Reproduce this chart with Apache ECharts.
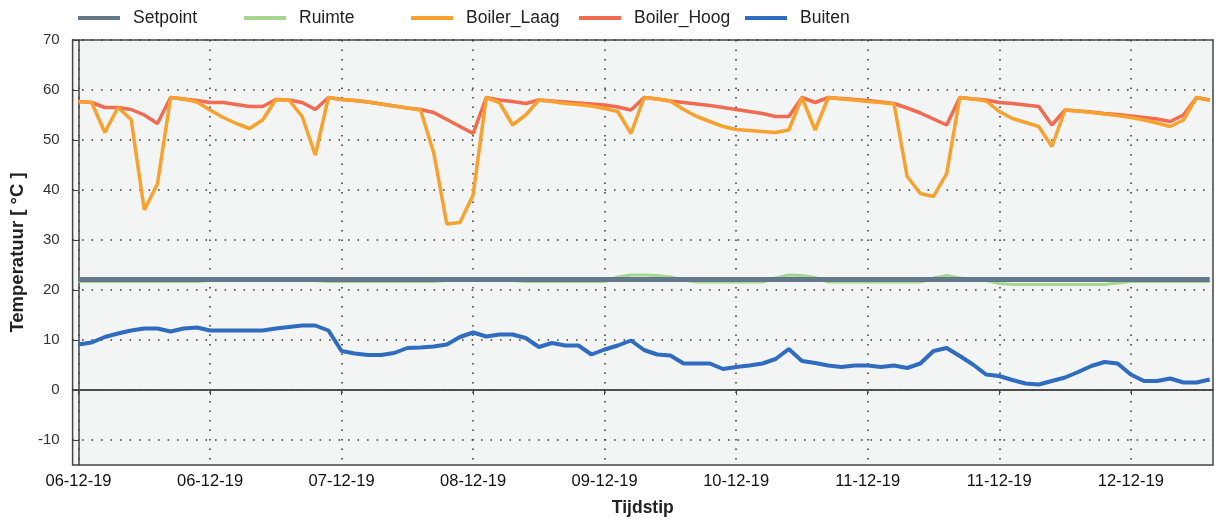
<!DOCTYPE html>
<html>
<head>
<meta charset="utf-8">
<script src="https://cdn.jsdelivr.net/npm/echarts@6/dist/echarts.min.js"></script>
<style>
  html, body { margin: 0; padding: 0; background: #fff; }
  #chart { width: 1218px; height: 523px; }
</style>
</head>
<body>
<div id="chart"></div>
<script>
// sample times in hours since the first reading (one reading every 2 hours)
const sampleHours = [
  0, 2, 4, 6, 8, 10, 12, 14, 16, 18, 20, 22, 24, 26, 28, 30, 32, 34, 36, 38,
  40, 42, 44, 46, 48, 50, 52, 54, 56, 58, 60, 62, 64, 66, 68, 70, 72, 74, 76, 78,
  80, 82, 84, 86, 88, 90, 92, 94, 96, 98, 100, 102, 104, 106, 108, 110, 112, 114, 116, 118,
  120, 122, 124, 126, 128, 130, 132, 134, 136, 138, 140, 142, 144, 146, 148, 150, 152, 154, 156, 158,
  160, 162, 164, 166, 168, 170, 172
]
const tickHours = [0, 20, 40, 60, 80, 100, 120, 140, 160]
const tickLabels = ['06-12-19', '06-12-19', '07-12-19', '08-12-19', '09-12-19', '10-12-19', '11-12-19', '11-12-19', '12-12-19']
const yTicks = [-10, 0, 10, 20, 30, 40, 50, 60, 70]

const setpoint = [
  22.1, 22.1, 22.1, 22.1, 22.1, 22.1, 22.1, 22.1, 22.1, 22.1, 22.1, 22.1, 22.1, 22.1, 22.1, 22.1, 22.1, 22.1, 22.1, 22.1,
  22.1, 22.1, 22.1, 22.1, 22.1, 22.1, 22.1, 22.1, 22.1, 22.1, 22.1, 22.1, 22.1, 22.1, 22.1, 22.1, 22.1, 22.1, 22.1, 22.1,
  22.1, 22.1, 22.1, 22.1, 22.1, 22.1, 22.1, 22.1, 22.1, 22.1, 22.1, 22.1, 22.1, 22.1, 22.1, 22.1, 22.1, 22.1, 22.1, 22.1,
  22.1, 22.1, 22.1, 22.1, 22.1, 22.1, 22.1, 22.1, 22.1, 22.1, 22.1, 22.1, 22.1, 22.1, 22.1, 22.1, 22.1, 22.1, 22.1, 22.1,
  22.1, 22.1, 22.1, 22.1, 22.1, 22.1, 22.1
]
const ruimte = [
  21.7, 21.7, 21.7, 21.7, 21.7, 21.7, 21.7, 21.7, 21.7, 21.7,
  21.9, 21.9, 21.9, 21.9, 21.9, 21.9, 21.9, 21.9, 21.9,
  21.7, 21.7, 21.7, 21.7, 21.7, 21.7, 21.7, 21.7, 21.7,
  21.9, 21.9, 21.9, 21.9, 21.9, 21.9,
  21.7, 21.7, 21.7, 21.7, 21.7, 21.7, 21.7,
  22.6, 23.0, 23.0, 22.9, 22.6, 22.0,
  21.6, 21.6, 21.6, 21.6, 21.6, 21.6,
  22.4, 23.0, 22.9, 22.5,
  21.6, 21.6, 21.6, 21.6, 21.6, 21.6, 21.6, 21.6,
  22.4, 22.9, 22.4,
  21.9, 21.9,
  21.3, 21.1, 21.1, 21.1, 21.1, 21.1, 21.1, 21.1, 21.1, 21.4,
  21.7, 21.7, 21.7, 21.7, 21.7, 21.7, 21.7
]
const boilerLaag = [
  57.7, 57.5, 51.5, 56.5, 54.1, 36.0, 41.2, 58.5, 58.2, 57.6,
  56.0, 54.5, 53.3, 52.3, 54.0, 58.1, 58.0, 54.7, 47.0, 58.5,
  58.1, 57.9, 57.6, 57.2, 56.8, 56.4, 56.0, 47.5, 33.2, 33.5,
  39.0, 58.5, 57.5, 53.0, 55.0, 58.0, 57.7, 57.3, 57.1, 56.8,
  56.3, 55.7, 51.3, 58.5, 58.2, 57.8, 56.1, 54.7, 53.7, 52.7,
  52.1, 51.9, 51.7, 51.5, 52.0, 58.5, 52.0, 58.5, 58.2, 58.0,
  57.7, 57.5, 57.2, 42.7, 39.3, 38.7, 43.3, 58.5, 58.2, 57.8,
  55.7, 54.3, 53.5, 52.7, 48.7, 56.0, 55.8, 55.5, 55.2, 54.9,
  54.5, 54.0, 53.4, 52.7, 54.0, 58.5, 57.9
]
const boilerHoog = [
  57.7, 57.5, 56.5, 56.5, 56.1, 55.0, 53.3, 58.5, 58.2, 57.9,
  57.5, 57.5, 57.1, 56.7, 56.7, 58.1, 58.0, 57.5, 56.1, 58.5,
  58.1, 57.9, 57.6, 57.2, 56.8, 56.4, 56.1, 55.5, 54.1, 52.7,
  51.3, 58.5, 58.0, 57.7, 57.3, 58.0, 57.8, 57.6, 57.4, 57.2,
  57.0, 56.6, 56.0, 58.5, 58.2, 57.8, 57.5, 57.2, 56.9, 56.5,
  56.1, 55.7, 55.3, 54.7, 54.7, 58.5, 57.5, 58.5, 58.3, 58.1,
  57.9, 57.6, 57.3, 56.4, 55.4, 54.2, 53.0, 58.5, 58.2, 58.0,
  57.5, 57.3, 57.0, 56.7, 53.0, 56.0, 55.8, 55.6, 55.3, 55.1,
  54.8, 54.5, 54.2, 53.7, 55.0, 58.5, 58.0
]
const buiten = [
  9.1, 9.5, 10.6, 11.3, 11.9, 12.3, 12.3, 11.7, 12.3, 12.5,
  11.9, 11.9, 11.9, 11.9, 11.9, 12.3, 12.6, 12.9, 12.9, 11.9,
  7.8, 7.3, 7.0, 7.0, 7.4, 8.4, 8.5, 8.7, 9.1, 10.6,
  11.5, 10.7, 11.1, 11.1, 10.4, 8.6, 9.4, 8.9, 8.9, 7.1,
  8.1, 8.9, 9.9, 8.0, 7.1, 6.9, 5.3, 5.3, 5.3, 4.2,
  4.6, 4.9, 5.3, 6.2, 8.2, 5.8, 5.4, 4.9, 4.6, 4.9,
  4.9, 4.6, 4.9, 4.4, 5.3, 7.8, 8.4, 6.8, 5.1, 3.1,
  2.8, 2.0, 1.3, 1.1, 1.8, 2.5, 3.6, 4.8, 5.6, 5.3,
  3.1, 1.8, 1.8, 2.3, 1.5, 1.5, 2.1
]

const font = "'Liberation Sans', Arial, sans-serif"
const colors = {
  Setpoint: '#63798b',
  Ruimte: '#a3d68e',
  Boiler_Laag: '#f9a12e',
  Boiler_Hoog: '#f26a4f',
  Buiten: '#2f6cc0'
}
const legendLeft = { Setpoint: 78, Ruimte: 244, Boiler_Laag: 411, Boiler_Hoog: 579, Buiten: 745 }

const pairs = vals => sampleHours.map((h, i) => [h, vals[i]])
const dotted = { color: '#333', width: 1.5, type: [1.5, 8] }

function line(name, vals, width, z) {
  return {
    name,
    type: 'line',
    data: pairs(vals),
    showSymbol: false,
    symbol: 'none',
    z,
    lineStyle: { color: colors[name], width },
    itemStyle: { color: colors[name] },
    emphasis: { disabled: true },
    animation: false
  }
}

const chart = echarts.init(document.getElementById('chart'))
const buitenSeries = line('Buiten', buiten, 4, 5)
buitenSeries.markLine = {
  silent: true,
  symbol: 'none',
  label: { show: false },
  lineStyle: { color: '#444', width: 1.5, type: 'solid' },
  data: [{ yAxis: 0 }]
}

chart.setOption({
  backgroundColor: '#fff',
  textStyle: { fontFamily: font },
  legend: Object.keys(colors).map(name => ({
    data: [name],
    left: legendLeft[name],
    top: 9,
    padding: 0,
    icon: 'rect',
    itemWidth: 42,
    itemHeight: 4,
    selectedMode: false,
    textStyle: { fontFamily: font, fontSize: 17.5, color: '#222', padding: [0, 0, 0, 8] }
  })),
  grid: {
    left: 72, right: 5, top: 40, bottom: 58,
    show: true,
    backgroundColor: '#f3f4f4',
    borderColor: '#444',
    borderWidth: 1.5
  },
  xAxis: {
    type: 'value',
    min: -0.9,
    max: 172.5,
    name: 'Tijdstip',
    nameLocation: 'middle',
    nameGap: 34,
    nameTextStyle: { fontFamily: font, fontSize: 17.5, fontWeight: 'bold', color: '#222' },
    axisLine: { show: true, lineStyle: { color: '#444', width: 1.5 } },
    axisTick: { show: true, length: 5, customValues: tickHours, lineStyle: { color: '#444' } },
    axisLabel: {
      customValues: tickHours,
      fontFamily: font,
      fontSize: 16.5,
      color: '#111',
      margin: 8,
      formatter: v => tickLabels[Math.round(v / 20)]
    },
    splitLine: { show: true, lineStyle: dotted }
  },
  yAxis: {
    type: 'value',
    min: -15,
    max: 70,
    name: 'Temperatuur [ °C ]',
    nameLocation: 'middle',
    nameGap: 44,
    nameTextStyle: { fontFamily: font, fontSize: 18.5, fontWeight: 'bold', color: '#222' },
    axisLine: { show: true, lineStyle: { color: '#444', width: 1.5 } },
    axisTick: { show: true, length: 6, customValues: yTicks, lineStyle: { color: '#444' } },
    axisLabel: { customValues: yTicks, fontFamily: font, fontSize: 15, color: '#333', margin: 13 },
    splitLine: { show: true, lineStyle: dotted }
  },
  series: [
    line('Ruimte', ruimte, 3, 2),
    line('Setpoint', setpoint, 5, 3),
    line('Boiler_Hoog', boilerHoog, 3.5, 3),
    line('Boiler_Laag', boilerLaag, 3.5, 4),
    buitenSeries
  ]
})
</script>
</body>
</html>
